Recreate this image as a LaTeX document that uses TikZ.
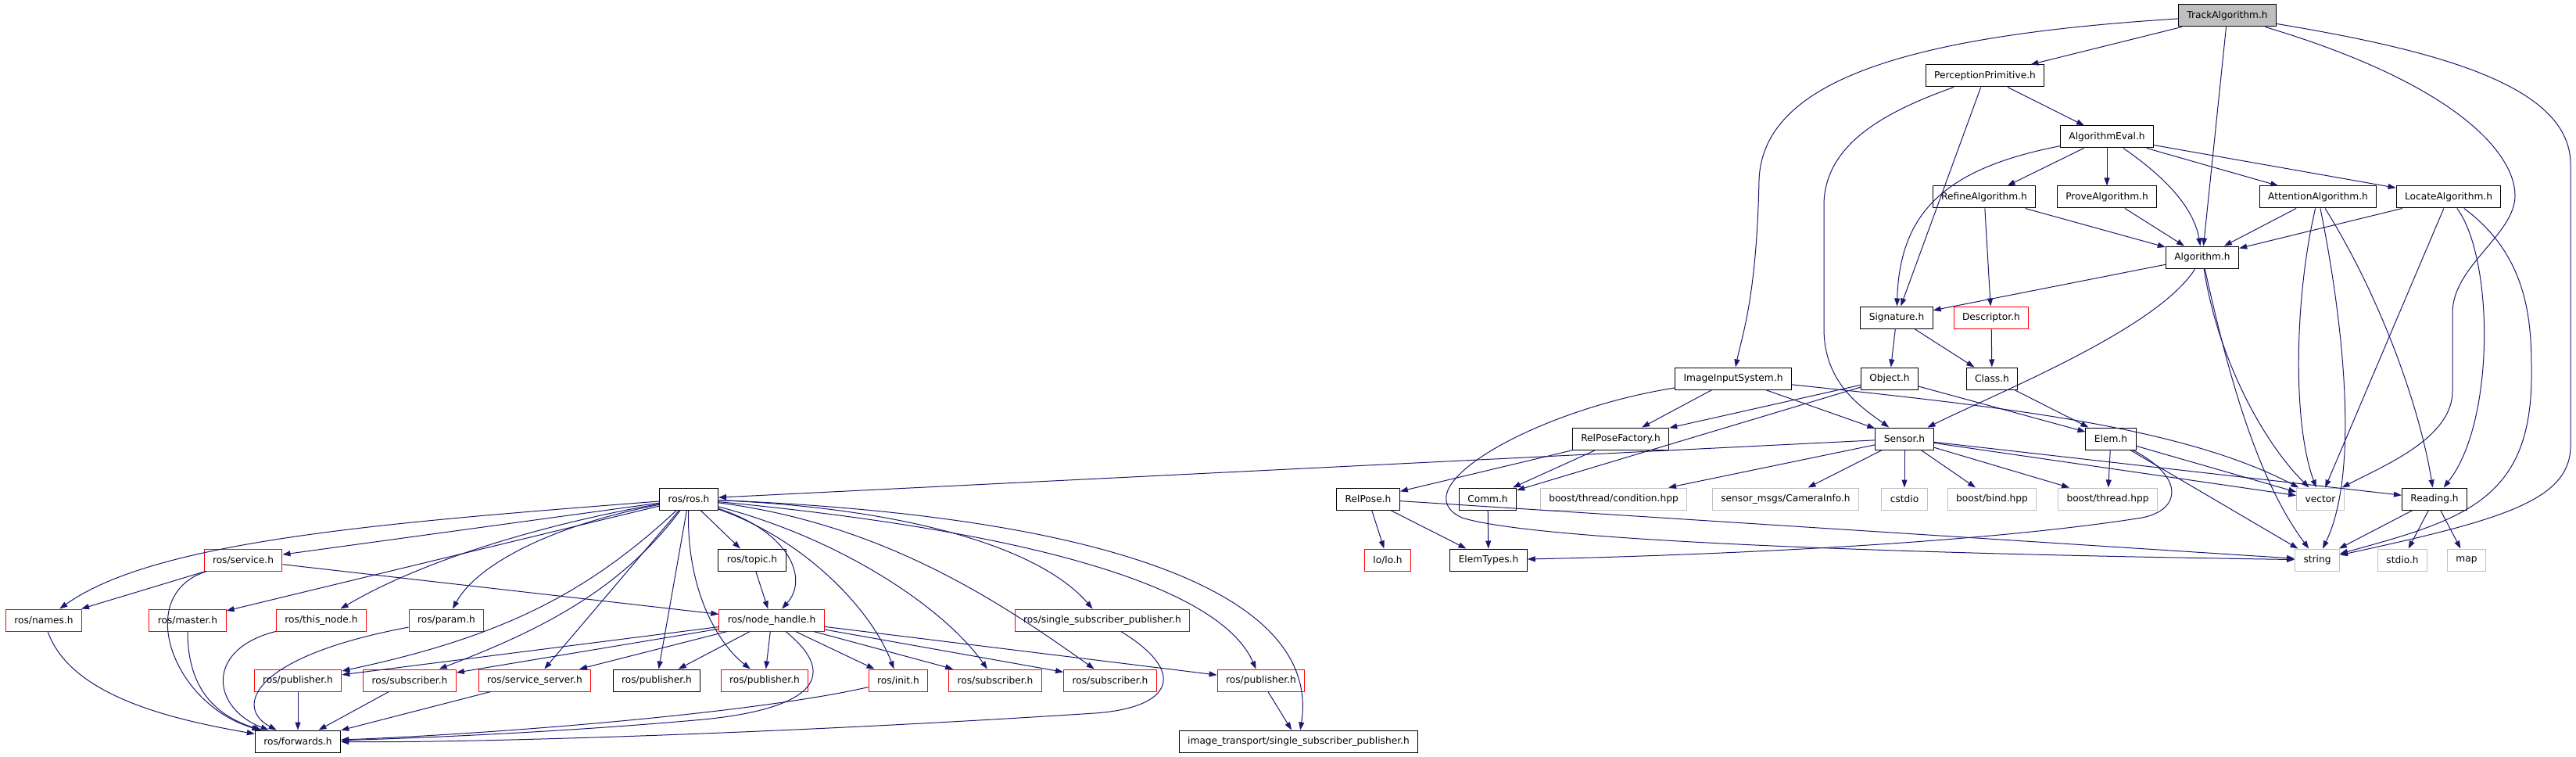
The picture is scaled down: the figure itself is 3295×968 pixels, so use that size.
\documentclass[tikz,border=0pt]{standalone}
\usepackage{fontspec}
\setmainfont{DejaVu Sans}
\usepackage{xcolor}
\usepackage{tikz}
\usetikzlibrary{arrows.meta}
\definecolor{edgeblue}{HTML}{191970}
\definecolor{extgray}{HTML}{BFBFBF}

\begin{document}
\begin{tikzpicture}[x=1pt, y=-1pt,
  hdr/.style={draw=black, line width=1pt, fill=white, rectangle, minimum height=28pt, inner xsep=11pt, inner ysep=0pt, font=\fontsize{12.2}{14}\selectfont},
  trunc/.style={hdr, draw=red},
  ext/.style={hdr, draw=extgray},
  root/.style={hdr, fill=extgray},
  incl/.style={-{Triangle[length=10pt,width=7pt]}, edgeblue, line width=1pt},
]
  \useasboundingbox (0,0) rectangle (3295,968);

  % Project headers
  \node[root] (track) at (2849,20) {TrackAlgorithm.h};
  \node[hdr] (percept) at (2539,97) {PerceptionPrimitive.h};
  \node[hdr] (algeval) at (2695,175) {AlgorithmEval.h};
  \node[hdr] (refine) at (2538,252) {RefineAlgorithm.h};
  \node[hdr] (prove) at (2695,252) {ProveAlgorithm.h};
  \node[hdr] (attention) at (2965,252) {AttentionAlgorithm.h};
  \node[hdr] (locate) at (3132,252) {LocateAlgorithm.h};
  \node[hdr] (algo) at (2817,329) {Algorithm.h};
  \node[hdr] (signature) at (2426,406) {Signature.h};
  \node[trunc] (descriptor) at (2547,406) {Descriptor.h};
  \node[hdr] (imginput) at (2217,484) {ImageInputSystem.h};
  \node[hdr] (object) at (2417,484) {Object.h};
  \node[hdr] (classh) at (2548,484) {Class.h};
  \node[hdr] (relposefac) at (2073,561) {RelPoseFactory.h};
  \node[hdr] (sensor) at (2436,561) {Sensor.h};
  \node[hdr] (elem) at (2700,561) {Elem.h};
  \node[hdr] (relpose) at (1750,638) {RelPose.h};
  \node[hdr] (comm) at (1903,638) {Comm.h};
  \node[hdr] (reading) at (3114,638) {Reading.h};
  \node[trunc] (lolo) at (1775,716) {lo/lo.h};
  \node[hdr] (elemtypes) at (1904,716) {ElemTypes.h};

  % System headers
  \node[ext] (condition) at (2064,638) {boost/thread/condition.hpp};
  \node[ext] (camerainfo) at (2284,638) {sensor\_msgs/CameraInfo.h};
  \node[ext] (cstdio) at (2436,638) {cstdio};
  \node[ext] (bind) at (2548,638) {boost/bind.hpp};
  \node[ext] (thread) at (2696,638) {boost/thread.hpp};
  \node[ext] (vector) at (2968,638) {vector};
  \node[ext] (string) at (2964,716) {string};
  \node[ext] (stdio) at (3073,716) {stdio.h};
  \node[ext] (map) at (3155,716) {map};

  % ROS headers
  \node[hdr] (rosros) at (881,638) {ros/ros.h};
  \node[trunc] (service) at (311,716) {ros/service.h};
  \node[hdr] (topic) at (962,716) {ros/topic.h};
  \node[trunc] (names) at (56,793) {ros/names.h};
  \node[trunc] (master) at (240,793) {ros/master.h};
  \node[trunc] (thisnode) at (411,793) {ros/this\_node.h};
  \node[trunc] (param) at (571,793) {ros/param.h};
  \node[trunc] (nodehandle) at (987,793) {ros/node\_handle.h};
  \node[trunc] (singlepub) at (1410,793) {ros/single\_subscriber\_publisher.h};
  \node[trunc] (pubA) at (381,870) {ros/publisher.h};
  \node[trunc] (subA) at (524,870) {ros/subscriber.h};
  \node[trunc] (srvserver) at (684,870) {ros/service\_server.h};
  \node[hdr] (pubB) at (840,870) {ros/publisher.h};
  \node[trunc] (pubC) at (978,870) {ros/publisher.h};
  \node[trunc] (init) at (1149,870) {ros/init.h};
  \node[trunc] (subB) at (1273,870) {ros/subscriber.h};
  \node[trunc] (subC) at (1420,870) {ros/subscriber.h};
  \node[trunc] (pubD) at (1613,870) {ros/publisher.h};
  \node[hdr] (forwards) at (381,948) {ros/forwards.h};
  \node[hdr] (itsingle) at (1661,948) {image\_transport/single\_subscriber\_publisher.h};

  % TrackAlgorithm.h
  \draw[incl] (track) -- (percept);
  \draw[incl] (track) .. controls (2450,45) and (2255,100) .. (2250,230) .. controls (2247,380) and (2228,430) .. (imginput);
  \draw[incl] (track) -- (algo);
  \draw[incl] (track) .. controls (3150,110) and (3217,200) .. (3217,250) .. controls (3217,300) and (3137,340) .. (3137,400) -- (3137,500) .. controls (3137,560) and (3050,595) .. (vector);
  \draw[incl] (track) .. controls (3120,65) and (3288,110) .. (3288,210) -- (3288,570) .. controls (3288,640) and (3200,665) .. (string);

  % PerceptionPrimitive.h, AlgorithmEval.h
  \draw[incl] (percept) -- (algeval);
  \draw[incl] (percept) -- (signature);
  \draw[incl] (percept) .. controls (2420,140) and (2335,180) .. (2333,260) -- (2333,420) .. controls (2333,490) and (2380,520) .. (sensor);
  \draw[incl] (algeval) .. controls (2490,215) and (2430,270) .. (signature);
  \draw[incl] (algeval) -- (refine);
  \draw[incl] (algeval) -- (prove);
  \draw[incl] (algeval) .. controls (2760,220) and (2805,260) .. (algo);
  \draw[incl] (algeval) -- (attention);
  \draw[incl] (algeval) -- (locate);

  % Algorithms
  \draw[incl] (refine) -- (algo);
  \draw[incl] (refine) -- (descriptor);
  \draw[incl] (prove) -- (algo);
  \draw[incl] (attention) -- (algo);
  \draw[incl] (attention) .. controls (2935,380) and (2932,540) .. (vector);
  \draw[incl] (attention) .. controls (2995,400) and (3020,600) .. (string);
  \draw[incl] (attention) .. controls (3045,380) and (3095,520) .. (reading);
  \draw[incl] (locate) -- (algo);
  \draw[incl] (locate) -- (vector);
  \draw[incl] (locate) .. controls (3190,330) and (3192,540) .. (reading);
  \draw[incl] (locate) .. controls (3238,330) and (3238,420) .. (3238,480) .. controls (3238,640) and (3150,665) .. (string);
  \draw[incl] (algo) -- (signature);
  \draw[incl] (algo) .. controls (2760,420) and (2560,500) .. (sensor);
  \draw[incl] (algo) .. controls (2835,450) and (2890,560) .. (vector);
  \draw[incl] (algo) .. controls (2848,470) and (2885,610) .. (string);

  % Signature.h, Descriptor.h, Object.h, Class.h
  \draw[incl] (signature) -- (object);
  \draw[incl] (signature) -- (classh);
  \draw[incl] (descriptor) -- (classh);
  \draw[incl] (object) -- (relposefac);
  \draw[incl] (object) -- (comm);
  \draw[incl] (object) -- (elem);
  \draw[incl] (classh) -- (elem);

  % ImageInputSystem.h
  \draw[incl] (imginput) -- (relposefac);
  \draw[incl] (imginput) -- (sensor);
  \draw[incl] (imginput) .. controls (2560,520) and (2790,545) .. (vector);
  \draw[incl] (imginput) .. controls (1960,525) and (1790,625) .. (1870,662) .. controls (1990,700) and (2700,712) .. (string);

  % RelPoseFactory.h, Sensor.h, Elem.h
  \draw[incl] (relposefac) -- (relpose);
  \draw[incl] (relposefac) -- (comm);
  \draw[incl] (sensor) -- (rosros);
  \draw[incl] (sensor) -- (condition);
  \draw[incl] (sensor) -- (camerainfo);
  \draw[incl] (sensor) -- (cstdio);
  \draw[incl] (sensor) -- (bind);
  \draw[incl] (sensor) -- (thread);
  \draw[incl] (sensor) -- (vector);
  \draw[incl] (sensor) -- (reading);
  \draw[incl] (elem) -- (thread);
  \draw[incl] (elem) -- (vector);
  \draw[incl] (elem) -- (string);
  \draw[incl] (elem) .. controls (2795,610) and (2790,652) .. (2740,662) .. controls (2500,700) and (2100,712) .. (elemtypes);

  % Reading.h, RelPose.h, Comm.h
  \draw[incl] (reading) -- (string);
  \draw[incl] (reading) -- (stdio);
  \draw[incl] (reading) -- (map);
  \draw[incl] (relpose) -- (lolo);
  \draw[incl] (relpose) -- (elemtypes);
  \draw[incl] (relpose) -- (string);
  \draw[incl] (comm) -- (elemtypes);

  % ros/ros.h
  \draw[incl] (rosros) .. controls (500,668) and (200,690) .. (names);
  \draw[incl] (rosros) -- (service);
  \draw[incl] (rosros) -- (master);
  \draw[incl] (rosros) .. controls (740,662) and (560,705) .. (thisnode);
  \draw[incl] (rosros) .. controls (705,672) and (610,722) .. (param);
  \draw[incl] (rosros) .. controls (750,760) and (640,815) .. (pubA);
  \draw[incl] (rosros) .. controls (790,760) and (680,810) .. (subA);
  \draw[incl] (rosros) -- (srvserver);
  \draw[incl] (rosros) -- (pubB);
  \draw[incl] (rosros) .. controls (878,750) and (915,820) .. (pubC);
  \draw[incl] (rosros) -- (topic);
  \draw[incl] (rosros) .. controls (1010,680) and (1035,740) .. (nodehandle);
  \draw[incl] (rosros) .. controls (1030,690) and (1115,780) .. (init);
  \draw[incl] (rosros) .. controls (1080,690) and (1210,780) .. (subB);
  \draw[incl] (rosros) .. controls (1130,670) and (1280,770) .. (subC);
  \draw[incl] (rosros) .. controls (1160,650) and (1330,700) .. (singlepub);
  \draw[incl] (rosros) .. controls (1320,680) and (1560,750) .. (pubD);
  \draw[incl] (rosros) .. controls (1420,660) and (1690,760) .. (itsingle);

  % ros/service.h and the others
  \draw[incl] (service) -- (names);
  \draw[incl] (service) .. controls (170,760) and (220,900) .. (forwards);
  \draw[incl] (service) -- (nodehandle);
  \draw[incl] (topic) -- (nodehandle);
  \draw[incl] (names) .. controls (90,890) and (220,920) .. (forwards);
  \draw[incl] (master) .. controls (240,880) and (275,915) .. (forwards);
  \draw[incl] (thisnode) .. controls (262,830) and (270,905) .. (forwards);
  \draw[incl] (param) .. controls (320,840) and (300,905) .. (forwards);
  \draw[incl] (pubA) -- (forwards);
  \draw[incl] (subA) -- (forwards);
  \draw[incl] (srvserver) -- (forwards);

  % ros/node_handle.h
  \draw[incl] (nodehandle) -- (pubA);
  \draw[incl] (nodehandle) -- (subA);
  \draw[incl] (nodehandle) -- (srvserver);
  \draw[incl] (nodehandle) -- (pubB);
  \draw[incl] (nodehandle) -- (pubC);
  \draw[incl] (nodehandle) -- (init);
  \draw[incl] (nodehandle) -- (subB);
  \draw[incl] (nodehandle) -- (subC);
  \draw[incl] (nodehandle) -- (pubD);
  \draw[incl] (nodehandle) .. controls (1070,860) and (1050,905) .. (900,920) .. controls (700,938) and (500,945) .. (forwards);
  \draw[incl] (init) .. controls (950,915) and (600,940) .. (forwards);
  \draw[incl] (singlepub) .. controls (1520,860) and (1500,905) .. (1400,912) .. controls (1000,938) and (600,950) .. (forwards);
  \draw[incl] (pubD) -- (itsingle);

\end{tikzpicture}
\end{document}
